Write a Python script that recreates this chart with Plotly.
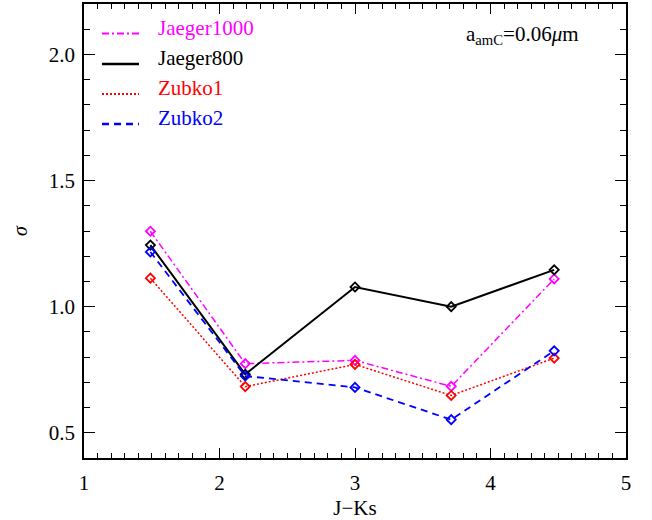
import plotly.graph_objects as go

# ---- data ----
jks = [1.49, 2.19, 3.0, 3.71, 4.47]
jaeger1000 = [1.299, 0.774, 0.787, 0.684, 1.110]
jaeger800 = [1.244, 0.732, 1.078, 1.000, 1.146]
zubko1 = [1.113, 0.683, 0.771, 0.648, 0.796]
zubko2 = [1.217, 0.725, 0.680, 0.552, 0.825]

series_names = ["Jaeger1000", "Jaeger800", "Zubko1", "Zubko2"]
series_values = [jaeger1000, jaeger800, zubko1, zubko2]
colors = ["#ff00ff", "#000000", "#ff0000", "#0000ff"]
dashes = ["7px,3px,2px,3px", "solid", "2px,2px", "7px,5px"]
widths = [1.5, 2.0, 1.5, 1.8]

FONT = "Liberation Serif"

fig = go.Figure()
for name, vals, c, d, w in zip(series_names, series_values, colors, dashes, widths):
    fig.add_trace(go.Scatter(
        x=jks, y=vals, mode="lines+markers", name=name,
        line=dict(color=c, dash=d, width=w),
        marker=dict(symbol="diamond-open", size=7, color=c, line=dict(width=1.8, color=c)),
        showlegend=False,
    ))

# ---- manual legend (line samples + coloured labels) ----
W, H = 542.0, 454.0
L, B = 84.0, 458.0
row_px = [33.5, 64.0, 94.0, 124.0]
for name, c, d, w, ry in zip(series_names, colors, dashes, widths, row_px):
    yy = (B - ry) / H
    fig.add_shape(type="line", xref="paper", yref="paper",
                  x0=(102 - L) / W, x1=(139 - L) / W, y0=yy, y1=yy,
                  line=dict(color=c, dash=d, width=w + 0.5))
    fig.add_annotation(xref="paper", yref="paper", x=(156 - L) / W, y=(B - ry + 6) / H,
                       text=name, showarrow=False, xanchor="left", yanchor="middle",
                       font=dict(family=FONT, size=21, color=c))

fig.add_annotation(xref="paper", yref="paper", x=(464 - L) / W, y=(B - 35) / H,
                   text="a<sub>amC</sub>=0.06<i>μ</i>m", showarrow=False,
                   xanchor="left", yanchor="middle",
                   font=dict(family=FONT, size=21, color="black"))

axis_common = dict(
    showgrid=False, zeroline=False, showline=True, linecolor="black", linewidth=1.5,
    mirror="allticks", ticks="inside", tickcolor="black", tickwidth=1.2,
    tickfont=dict(family=FONT, size=21, color="black"), automargin=False,
)

fig.update_xaxes(range=[1, 5], tickvals=[1, 2, 3, 4, 5], ticklen=10,
                 minor=dict(dtick=0.1, ticks="inside", ticklen=5, tickcolor="black", tickwidth=1),
                 title=dict(text="J−Ks", font=dict(family=FONT, size=21, color="black"), standoff=11),
                 ticklabelstandoff=5, **axis_common)
fig.update_yaxes(range=[0.4, 2.2], tickvals=[0.5, 1.0, 1.5, 2.0], ticktext=["0.5", "1.0", "1.5", "2.0"],
                 ticklen=11,
                 minor=dict(dtick=0.1, ticks="inside", ticklen=6, tickcolor="black", tickwidth=1),
                 title=dict(text="<i>σ</i>", font=dict(family=FONT, size=20, color="black"), standoff=16),
                 ticklabelstandoff=3, **axis_common)

fig.update_layout(
    width=652, height=520,
    margin=dict(l=84, r=26, t=4, b=62),
    paper_bgcolor="white", plot_bgcolor="white",
    showlegend=False,
)

fig.write_html("out.html", post_script="document.body.style.margin='0';",
               config={"displayModeBar": False})
